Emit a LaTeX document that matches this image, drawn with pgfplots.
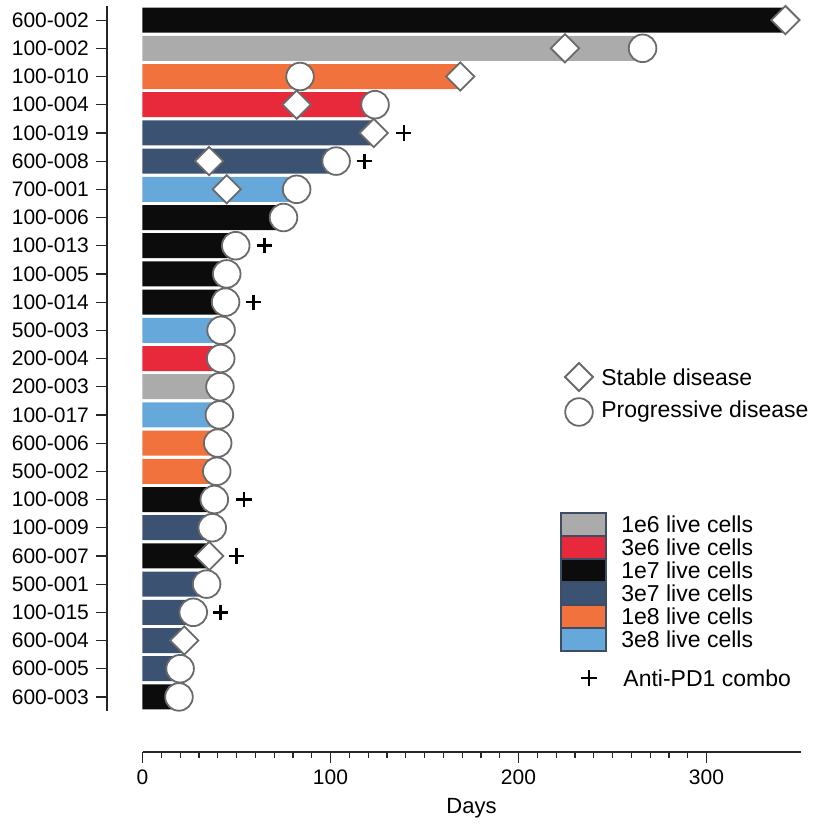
\documentclass[border=0pt]{standalone}
\usepackage{pgfplots}
\pgfplotsset{compat=1.18}
\usepackage{fontspec}
\setmainfont{Liberation Sans}
\definecolor{cgrey}{HTML}{ABABAB}
\definecolor{cred}{HTML}{E8293B}
\definecolor{cblack}{HTML}{0C0C0C}
\definecolor{cnavy}{HTML}{3B5273}
\definecolor{corange}{HTML}{F1723C}
\definecolor{cblue}{HTML}{67A8DA}
\definecolor{mkgray}{HTML}{6A6A6A}
\definecolor{legbd}{HTML}{3D4D63}
\begin{document}
\begin{tikzpicture}
\path[use as bounding box] (-71.25pt,-59pt) rectangle (336.75pt,355.5pt);
\begin{axis}[
  at={(0,0)}, anchor=south west,
  scale only axis, width=329pt, height=352.5pt,
  xmin=0, xmax=350, ymin=0.5, ymax=25.5, y dir=reverse,
  axis x line=none, axis y line*=left,
  axis y line shift=17.75pt,
  hide obscured y ticks=false,
  axis line style={-, line width=0.6pt, black!85},
  every tick/.style={line width=0.6pt, black!85},
  tick align=outside,
  major tick length=5.5pt,
  ytick={1,...,25},
  yticklabels={600-002,100-002,100-010,100-004,100-019,600-008,700-001,100-006,100-013,100-005,100-014,500-003,200-004,200-003,100-017,600-006,500-002,100-008,100-009,600-007,500-001,100-015,600-004,600-005,600-003},
  tick label style={font=\fontsize{10.5}{12}\selectfont},
  clip=false,
]
% bars
\addplot[xbar, bar width=12.5pt, bar shift=0pt, fill=cgrey, draw=none] coordinates {(264,2) (41.2,14)};
\addplot[xbar, bar width=12.5pt, bar shift=0pt, fill=cred, draw=none] coordinates {(123.7,4) (41.6,13)};
\addplot[xbar, bar width=12.5pt, bar shift=0pt, fill=cblack, draw=none] coordinates {(342,1) (75,8) (49.6,9) (44.8,10) (44.2,11) (38.2,18) (35.5,20) (19.4,25)};
\addplot[xbar, bar width=12.5pt, bar shift=0pt, fill=cnavy, draw=none] coordinates {(123,5) (103,6) (37.1,19) (34.1,21) (27,22) (22.2,23) (20,24)};
\addplot[xbar, bar width=12.5pt, bar shift=0pt, fill=corange, draw=none] coordinates {(169,3) (40,16) (39.5,17)};
\addplot[xbar, bar width=12.5pt, bar shift=0pt, fill=cblue, draw=none] coordinates {(82,7) (41.8,12) (40.9,15)};
% stable disease
\addplot[only marks, mark=square*, mark size=5pt, mark options={rotate=45, fill=white, draw=mkgray, line width=0.9pt}] coordinates {(342,1) (224.7,2) (169,3) (82,4) (123,5) (35.4,6) (44.8,7) (35.5,20) (22.2,23)};
% progressive disease
\addplot[only marks, mark=*, mark size=6.9pt, mark options={fill=white, draw=mkgray, line width=0.9pt}] coordinates {(266,2) (83.8,3) (123.7,4) (103,6) (82,7) (75,8) (49.6,9) (44.8,10) (44.2,11) (41.8,12) (41.6,13) (41.2,14) (40.9,15) (40,16) (39.5,17) (38.2,18) (37.1,19) (34.1,21) (27,22) (20,24) (19.4,25)};
% anti-PD1 combo
\addplot[only marks, mark=+, mark size=3.8pt, mark options={line width=1.3pt, black}] coordinates {(139,5) (118,6) (64.8,9) (59,11) (54,18) (50,20) (41.6,22)};
\end{axis}
\begin{axis}[
  at={(0pt,-20.5pt)}, anchor=south west,
  scale only axis, width=329pt, height=10pt,
  xmin=0, xmax=350, ymin=0, ymax=1,
  axis x line*=bottom, axis y line=none,
  hide obscured x ticks=false,
  axis line style={-, line width=0.6pt, black!85},
  every tick/.style={line width=0.6pt, black!85},
  tick align=outside,
  major tick length=5.5pt, minor tick length=3pt,
  xtick={0,100,200,300}, minor x tick num=9,
  tick label style={font=\fontsize{10.5}{12}\selectfont},
  /pgf/number format/assume math mode=true,
  xlabel={Days},
  xlabel style={font=\fontsize{11}{13}\selectfont},
]
\end{axis}
\begin{scope}[x=0.5pt,y=-0.5pt,shift={(-142.5,-711)}]
\draw[mkgray, line width=0.9pt, fill=white] (565,377)--(579,363)--(593,377)--(579,391)--cycle;
\draw[mkgray, line width=0.9pt, fill=white] (579,412) circle[radius=6.9pt];
\node[anchor=west, inner sep=0pt, font=\fontsize{11.5}{13}\selectfont] at (601,377) {Stable disease};
\node[anchor=west, inner sep=0pt, font=\fontsize{11.5}{13}\selectfont] at (601,412) {Progressive disease};
\foreach \c/\t [count=\k from 0] in {cgrey/1e6, cred/3e6, cblack/1e7, cnavy/3e7, corange/1e8, cblue/3e8}{
  \draw[fill=\c, draw=legbd, line width=0.8pt] (561,513+23*\k) rectangle (606,536+23*\k);
  \node[anchor=west, inner sep=0pt, font=\fontsize{11.5}{13}\selectfont] at (621,524.5+23*\k) {\t\ live cells};
}
\draw[line width=1.3pt] (581,678)--(597,678) (589,670)--(589,686);
\node[anchor=west, inner sep=0pt, font=\fontsize{11.5}{13}\selectfont] at (623,678) {Anti-PD1 combo};
\end{scope}
\end{tikzpicture}
\end{document}
